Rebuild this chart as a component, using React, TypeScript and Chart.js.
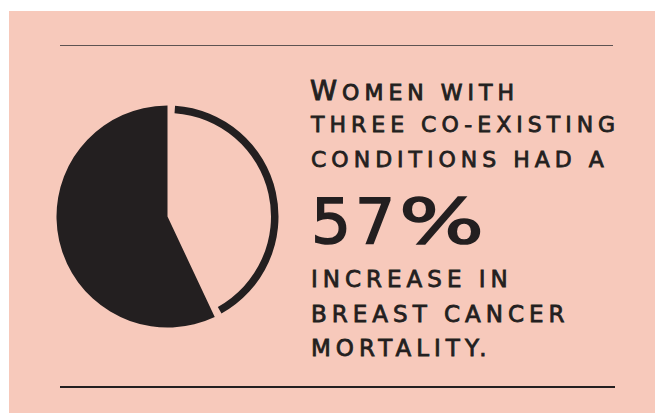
import { useEffect, useRef } from "react";
import { Chart, registerables } from "chart.js";

Chart.register(...registerables);

// ---- data ----
const SEGMENT_LABELS = ["Other women", "Three co-existing conditions"];
const SEGMENT_VALUES = [43, 57];
const HEADLINE_LINES = ["Women with", "three co-existing", "conditions had a"];
const STAT_TEXT = "57";
const STAT_UNIT = "%";
const FOOT_LINES = ["increase in", "breast cancer", "mortality."];

// ---- style ----
const INK = "#231f20";
const BG = "#f7c9bb";
const R = 111;
const RING = 7.5;
const GAP_DEG = 3.9;
const FONT = "'DejaVu Sans', sans-serif";

function PieChart() {
  const ref = useRef<HTMLCanvasElement | null>(null);
  useEffect(() => {
    if (!ref.current) return;
    const total = SEGMENT_VALUES.reduce((a, b) => a + b, 0);
    const ringCirc = (SEGMENT_VALUES[0] / total) * 360 - 2 * GAP_DEG;
    const chart = new Chart(ref.current, {
      type: "doughnut",
      data: {
        labels: SEGMENT_LABELS,
        datasets: [
          {
            data: [SEGMENT_VALUES[0]],
            backgroundColor: [INK],
            borderWidth: 0,
            rotation: GAP_DEG,
            circumference: ringCirc,
            radius: R,
            cutout: `${(1 - (2 * RING) / R) * 100}%`,
            weight: 1,
          } as any,
          {
            data: SEGMENT_VALUES,
            backgroundColor: ["rgba(0,0,0,0)", INK],
            borderWidth: 0,
            radius: 2 * R,
            cutout: 0,
            weight: 1,
          } as any,
        ],
      },
      options: {
        animation: false,
        responsive: false,
        maintainAspectRatio: false,
        events: [],
        layout: { padding: 0 },
        plugins: { legend: { display: false }, tooltip: { enabled: false } },
      },
    });
    return () => chart.destroy();
  }, []);
  return (
    <div style={{ position: "absolute", left: 47, top: 96, width: 241, height: 241 }}>
      <canvas ref={ref} width={241} height={241} style={{ width: 241, height: 241 }} />
    </div>
  );
}

const lineStyle = (top: number, size: number, stroke = 0.8): React.CSSProperties => ({
  position: "absolute",
  left: 311,
  top,
  fontFamily: FONT,
  fontSize: size,
  lineHeight: 1,
  letterSpacing: 5,
  color: INK,
  whiteSpace: "nowrap",
  textTransform: "uppercase",
  WebkitTextStroke: `${stroke}px ${INK}`,
});

export default function App() {
  const first = HEADLINE_LINES[0];
  return (
    <div style={{ position: "absolute", left: 0, top: 0, width: 655, height: 413, background: "#fff", overflow: "hidden" }}>
      <div style={{ position: "absolute", left: 9, top: 11, width: 646, height: 402, background: BG }} />
      <div style={{ position: "absolute", left: 60, top: 44.5, width: 553, height: 1.5, background: "#5e5352" }} />
      <div style={{ position: "absolute", left: 60, top: 386, width: 555, height: 1.5, background: INK }} />
      <PieChart />
      <div style={{ ...lineStyle(100 - 0.846 * 27.4, 27.4, 0.9), left: 310 }}>
        <span>{first.charAt(0)}</span>
        <span style={{ fontSize: 22 }}>{first.slice(1)}</span>
      </div>
      <div style={lineStyle(133 - 0.846 * 22, 22)}>{HEADLINE_LINES[1]}</div>
      <div style={lineStyle(168 - 0.846 * 22, 22)}>{HEADLINE_LINES[2]}</div>
      <div style={{ ...lineStyle(243 - 0.846 * 63, 63, 1.6), letterSpacing: 4 }}>
        {STAT_TEXT}
        <span style={{ display: "inline-block", transform: "scaleX(1.42)", transformOrigin: "left center" }}>{STAT_UNIT}</span>
      </div>
      <div style={lineStyle(287 - 0.846 * 23, 23)}>{FOOT_LINES[0]}</div>
      <div style={lineStyle(322 - 0.846 * 23, 23)}>{FOOT_LINES[1]}</div>
      <div style={lineStyle(356 - 0.846 * 23, 23)}>{FOOT_LINES[2]}</div>
    </div>
  );
}
